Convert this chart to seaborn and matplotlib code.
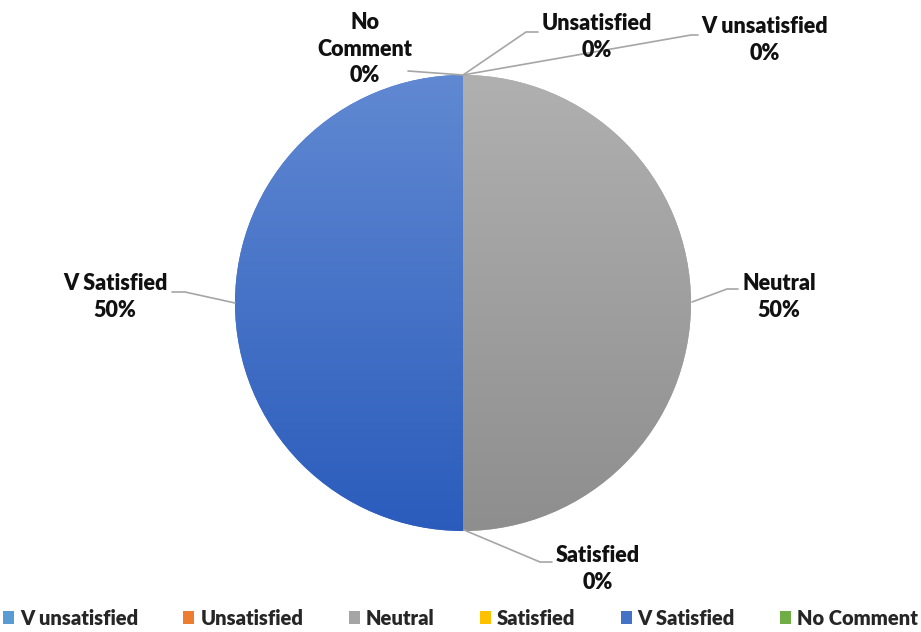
import numpy as np
import matplotlib
matplotlib.use("Agg")
import matplotlib.pyplot as plt
import seaborn as sns
from matplotlib.colors import LinearSegmentedColormap
from matplotlib.patches import Patch

# data
categories = ["V unsatisfied", "Unsatisfied", "Neutral", "Satisfied", "V Satisfied", "No Comment"]
values = [0, 0, 50, 0, 50, 0]
colors = ["#5B9BD5", "#ED7D31", "#A5A5A5", "#FFC000", "#4472C4", "#70AD47"]
# gradient (top, bottom) for the visible slices
gradients = {"Neutral": ("#B0B0B0", "#8E8E8E"), "V Satisfied": ("#6189D2", "#2B5CBC")}

sns.set_theme(style="white")
plt.rcParams["font.family"] = ["Lato", "DejaVu Sans"]

W, H = 921, 632
fig = plt.figure(figsize=(W / 100, H / 100), dpi=100)
ax = fig.add_axes([0, 0, 1, 1])

cx, cy, r = 463, H - 303, 228
wedges, _ = ax.pie(values, colors=colors, startangle=90, counterclock=False,
                   center=(cx, cy), radius=r, frame=True,
                   wedgeprops=dict(linewidth=0))

# gradient fill clipped to each wedge
for w, cat in zip(wedges, categories):
    if cat in gradients:
        cmap = LinearSegmentedColormap.from_list(cat, list(gradients[cat]))
        grad = np.linspace(0, 1, 256).reshape(-1, 1)
        im = ax.imshow(grad, cmap=cmap, extent=(cx - r, cx + r, cy - r, cy + r),
                       origin="upper", aspect="auto", zorder=w.get_zorder())
        im.set_clip_path(w)
ax.set_xlim(0, W)
ax.set_ylim(0, H)
ax.set_aspect("equal")
ax.axis("off")

pct = [f"{v / sum(values) * 100:.0f}%" for v in values]

def Y(y):
    return H - y

# label text positions and leader lines (pixel coords from top)
label_spec = {
    "No Comment": ((365, 49), "No\nComment", [(463, 75), (408, 71)]),
    "Unsatisfied": ((597, 37), "Unsatisfied", [(463, 75), (526, 32), (538, 32)]),
    "V unsatisfied": ((765, 40), "V unsatisfied", [(463, 75), (691, 35), (698, 35)]),
    "Neutral": ((779, 297), "Neutral", [(692, 302), (727, 289), (738, 289)]),
    "V Satisfied": ((115, 297), "V Satisfied", [(235, 303), (185, 292), (172, 292)]),
    "Satisfied": ((598, 569), "Satisfied", [(464, 530), (540, 562), (552, 562)]),
}
for cat, p in zip(categories, pct):
    (tx, ty), name, pts = label_spec[cat]
    xs = [q[0] for q in pts]
    ys = [Y(q[1]) for q in pts]
    ax.plot(xs, ys, color="#A6A6A6", lw=1.2, zorder=1)
    ax.text(tx, Y(ty), f"{name}\n{p}", ha="center", va="center", fontsize=15.5,
            fontweight="heavy", color="#111111", linespacing=1.3, zorder=5)

handles = [Patch(facecolor=c, edgecolor="none") for c in colors]
fig.legend(handles, categories, loc="lower center", ncol=6, frameon=False,
           bbox_to_anchor=(0.5, -0.022), handlelength=0.55, handleheight=0.6,
           handletextpad=0.3, columnspacing=2.25,
           prop=dict(family=["Lato", "DejaVu Sans"], weight="heavy", size=14.5))

fig.savefig("out.png", dpi=100, facecolor="white")
